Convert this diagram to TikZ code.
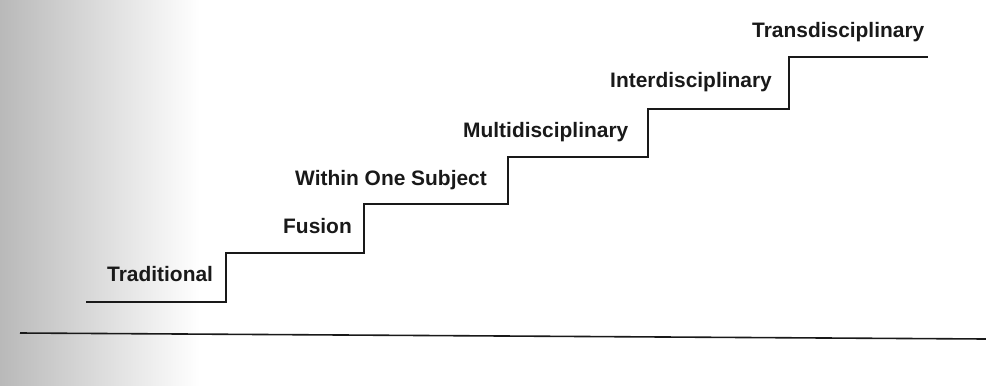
\documentclass[tikz,border=0pt]{standalone}
\usepackage{fontspec}
\setmainfont{Liberation Sans}
\begin{document}
\begin{tikzpicture}[x=1bp,y=-1bp,
  lab/.style={font=\bfseries\fontsize{21}{24}\selectfont, inner sep=0pt, anchor=base west, text=black!90},
  stair/.style={line width=1.5bp, line join=miter, draw=black!90},
  ground/.style={line width=1.6bp, draw=black!90}]
\useasboundingbox (0,0) rectangle (986,385);
% scanned grey shading at the left edge
\fill[left color=gray!55, right color=white] (0,0) rectangle (200,385);
% staircase corners
\coordinate (s0) at (86,302);
\coordinate (s1) at (226,302);
\coordinate (s2) at (226,253);
\coordinate (s3) at (364,253);
\coordinate (s4) at (364,204);
\coordinate (s5) at (508,204);
\coordinate (s6) at (508,157);
\coordinate (s7) at (648,157);
\coordinate (s8) at (648,109);
\coordinate (s9) at (789,109);
\coordinate (s10) at (789,57);
\coordinate (s11) at (928,57);
\draw[stair] (s0) -- (s1) -- (s2) -- (s3) -- (s4) -- (s5) -- (s6) -- (s7) -- (s8) -- (s9) -- (s10) -- (s11);
% ground line
\coordinate (g0) at (20,333);
\coordinate (g1) at (986,339);
\draw[ground] (g0) -- (g1);
% labels
\node[lab] (trad)  at (107,281) {Traditional};
\node[lab] (fus)   at (283,233) {Fusion};
\node[lab] (within) at (295,185) {Within One Subject};
\node[lab] (multi) at (463,137) {Multidisciplinary};
\node[lab] (inter) at (610,87) {Interdisciplinary};
\node[lab] (trans) at (752,37) {Transdisciplinary};
\end{tikzpicture}
\end{document}
